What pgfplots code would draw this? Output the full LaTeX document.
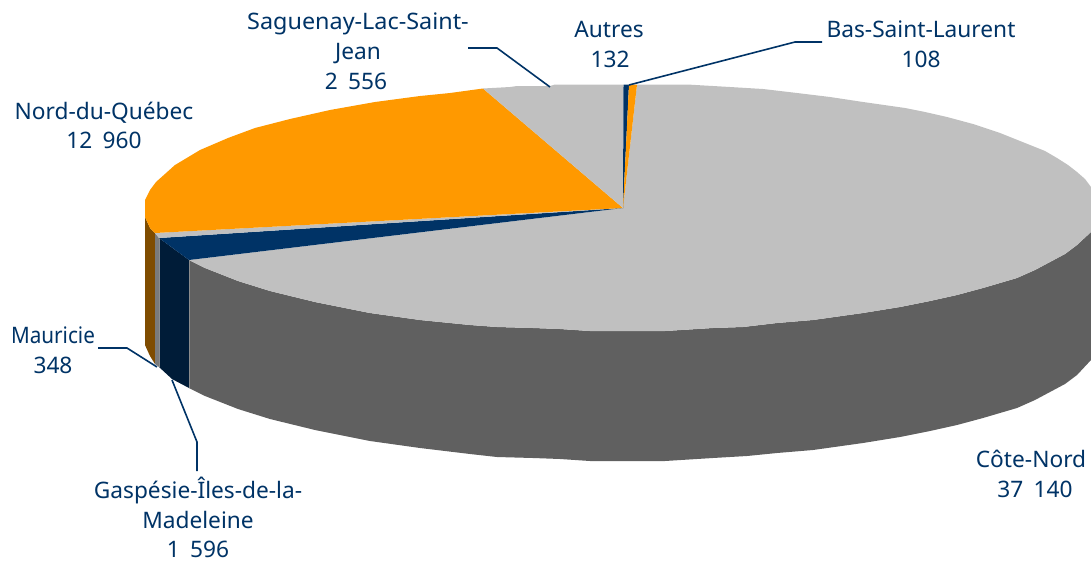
\documentclass[border=0pt]{standalone}
\usepackage{graphicx}
\usepackage{pgfplots}
\pgfplotsset{compat=1.18}
\usepackage{fontspec}
\setmainfont{Noto Sans}
\definecolor{txt}{HTML}{003366}
\definecolor{pienavy}{HTML}{003366}
\definecolor{pieorange}{HTML}{FF9900}
\definecolor{piegray}{HTML}{C0C0C0}
\definecolor{sidegray}{HTML}{606060}
\definecolor{sidenavy}{HTML}{001C38}
\definecolor{sideorange}{HTML}{7F4C00}
\definecolor{sidethin}{HTML}{7A7A7A}
\begin{document}
\begin{tikzpicture}
\begin{axis}[
  width=1091pt, height=562pt, scale only axis,
  xmin=0, xmax=1091, ymin=0, ymax=562, y dir=reverse,
  hide axis, clip=false]
\path (axis cs:0,0) rectangle (axis cs:1091,562);
% side faces
\addplot[fill=sideorange,draw=none] coordinates {(145,217)(150,228)(155,233)(155,364)(150,356)(145,345)(145,217)};
\addplot[fill=sidethin,draw=none] coordinates {(155,233)(159,238)(159,367)(155,364)(155,233)};
\addplot[fill=sidenavy,draw=none] coordinates {(159,238)(189,260)(189,388)(172,379)(159,367)(159,238)};
\addplot[fill=sidegray,draw=none] coordinates {
 (1091,232)(1077,245)(1065,254)(1050,262)(1035,270)(1017,278)(1000,283)(983,288)(957,295)(930,301)(900,307)(863,313)(813,320)(777,323)(743,327)(713,328)(665,331)(590,331)(575,330)(560,329)(533,328)(497,327)(470,325)(420,320)(370,313)(315,302)(270,291)(238,281)(205,268)(189,260)
 (189,388)(205,396)(238,409)(270,419)(315,430)(370,441)(420,448)(470,454)(497,457)(533,458)(560,459)(575,460)(590,461)(665,461)(713,458)(747,456)(777,453)(813,450)(863,443)(900,437)(930,431)(957,425)(983,418)(1000,413)(1017,408)(1035,400)(1050,392)(1065,384)(1077,375)(1091,360)(1091,232)};
\addplot[color=black!45,line width=0.6pt] coordinates {(189,261)(189,388)};
\addplot[color=black!45,line width=0.6pt] coordinates {(159,238)(159,367)};
% top faces
\addplot[fill=piegray,draw=none] coordinates {
 (623,208)(637,84.5)(687,84.5)(730,87)(763,89)(797,93)(830,97)(863,102)(905,108)(925,112)(947,117)(973,124)(1000,133)(1015,139)(1030,145)(1045,151)(1057,158)(1068,165)(1077,172)(1085,179)(1091,187)(1091,232)(1077,245)(1065,254)(1050,262)(1035,270)(1017,278)(1000,283)(983,288)(957,295)(930,301)(900,307)(863,313)(813,320)(777,323)(743,327)(713,328)(665,331)(590,331)(575,330)(560,329)(533,328)(497,327)(470,325)(420,320)(370,313)(315,302)(270,291)(238,281)(205,268)(189,260)(623,208)};
\addplot[fill=pienavy,draw=none] coordinates {(623,208)(159,238)(189,260)(623,208)};
\addplot[fill=piegray,draw=none] coordinates {(623,208)(155,233)(159,238)(623,208)};
\addplot[fill=pieorange,draw=none] coordinates {
 (623,208)(483,88.5)(450,93)(420,96)(375,102)(330,110)(290,119)(255,128)(228,138)(200,150)(175,165)(156,182)(150,190)(145,200)(145,217)(150,228)(155,233)(623,208)};
\addplot[fill=piegray,draw=none] coordinates {(623,208)(623.5,84.5)(555,84.5)(550,86)(517,86)(510,87)(483,88.5)(623,208)};
\addplot[fill=pienavy,draw=none] coordinates {(623,208)(623.5,84.5)(629,84.5)(623,208)};
\addplot[fill=pieorange,draw=none] coordinates {(623,208)(629,84.5)(637,84.5)(623,208)};
% leader lines
\addplot[color=txt,line width=1.6pt] coordinates {(629,85)(795,42)(822,42)};
\addplot[color=txt,line width=1.6pt] coordinates {(468,48)(497,48)(550,87)};
\addplot[color=txt,line width=1.6pt] coordinates {(98,348)(127,348)(157,367)};
\addplot[color=txt,line width=1.6pt] coordinates {(172,380)(197,442)(197,471)};
% labels
\tikzset{lb/.style={anchor=base,inner sep=0pt,text=txt,font=\fontsize{22.7}{26}\selectfont}}
\node[lb] at (axis cs:358,29) {\scalebox{1.03}[1]{Saguenay-Lac-Saint-}};
\node[lb] at (axis cs:358,59) {Jean};
\node[lb] at (axis cs:356,89) {2\hspace{0.45em}556};
\node[lb] at (axis cs:104,119) {Nord-du-Québec};
\node[lb] at (axis cs:104,148) {12\hspace{0.45em}960};
\node[lb] at (axis cs:609,37) {Autres};
\node[lb] at (axis cs:610,67) {132};
\node[lb] at (axis cs:921,37) {Bas-Saint-Laurent};
\node[lb] at (axis cs:921,67) {108};
\node[lb] at (axis cs:1031,467) {Côte-Nord};
\node[lb] at (axis cs:1035,497) {37\hspace{0.45em}140};
\node[lb] at (axis cs:53,343) {\scalebox{0.91}[1]{Mauricie}};
\node[lb] at (axis cs:53,373) {348};
\node[lb] at (axis cs:198,498) {Gaspésie-Îles-de-la-};
\node[lb] at (axis cs:198,528) {Madeleine};
\node[lb] at (axis cs:198,557) {1\hspace{0.45em}596};
\end{axis}
\end{tikzpicture}
\end{document}
